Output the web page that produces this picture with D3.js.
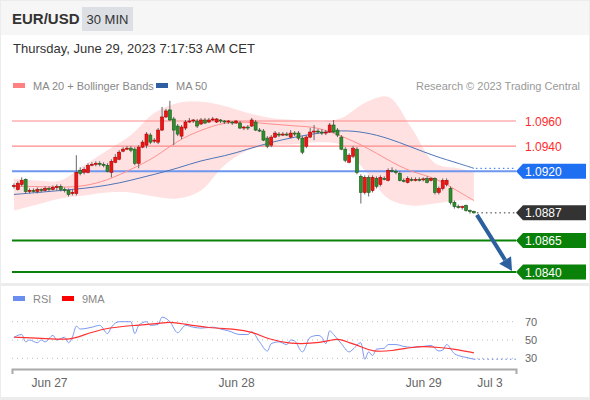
<!DOCTYPE html>
<html>
<head>
<meta charset="utf-8">
<script src="https://cdn.jsdelivr.net/npm/d3@7"></script>
<style>
  body { margin: 0; background: #fff; }
  svg { display: block; font-family: Arial, "Liberation Sans", sans-serif; }
</style>
</head>
<body>
<div id="chart"></div>
<script>
"use strict";

// ---- data ----
// one 30 min bar per row: [open, high, low, close]
var candles = [
    [1.0908,1.09104,1.09064,1.09088],[1.09056,1.0912,1.09048,1.09104],[1.09096,1.09152,1.0908,1.09128],
    [1.09136,1.09144,1.09024,1.0904],[1.0904,1.09064,1.09024,1.09048],[1.09048,1.09064,1.09032,1.0904],
    [1.0904,1.09072,1.09024,1.09056],[1.09056,1.09064,1.09032,1.09048],[1.09048,1.0908,1.0904,1.09064],
    [1.09064,1.0908,1.0904,1.09056],[1.09056,1.09088,1.09048,1.09072],[1.09072,1.09096,1.09048,1.0908],
    [1.0908,1.09096,1.0904,1.09056],[1.09056,1.09072,1.09032,1.09048],[1.09048,1.09064,1.09,1.09016],
    [1.09024,1.09056,1.09008,1.09032],[1.09024,1.09328,1.09008,1.09192],[1.09208,1.09232,1.09168,1.09184],
    [1.09192,1.09232,1.09176,1.09216],[1.09192,1.09264,1.09184,1.09248],[1.09248,1.09272,1.0924,1.09256],
    [1.09256,1.0928,1.0924,1.09264],[1.09264,1.0928,1.0924,1.09256],[1.09256,1.09272,1.09232,1.09248],
    [1.09248,1.09264,1.09192,1.092],[1.09192,1.09296,1.09152,1.0928],[1.09272,1.09336,1.09264,1.09312],
    [1.09296,1.09368,1.09288,1.09352],[1.0936,1.09392,1.09352,1.09376],[1.09376,1.094,1.09368,1.09384],
    [1.09384,1.094,1.09352,1.09368],[1.09376,1.09392,1.09248,1.09264],[1.09264,1.09408,1.09224,1.09392],
    [1.09392,1.09448,1.09384,1.09432],[1.09408,1.09512,1.09384,1.09496],[1.09488,1.09504,1.09416,1.09432],
    [1.0944,1.09464,1.09424,1.09448],[1.09432,1.09544,1.09416,1.09528],[1.09528,1.09712,1.0952,1.09632],
    [1.09632,1.09696,1.09624,1.0968],[1.09688,1.0976,1.096,1.09608],[1.09616,1.09632,1.09408,1.09528],
    [1.0956,1.09576,1.0948,1.09496],[1.0948,1.09568,1.09456,1.09552],[1.09544,1.09608,1.09528,1.09592],
    [1.09592,1.09624,1.09584,1.096],[1.096,1.09616,1.09584,1.09608],[1.096,1.09616,1.09544,1.0956],
    [1.09576,1.09624,1.09568,1.09608],[1.09608,1.09624,1.09576,1.09584],[1.09592,1.09624,1.09584,1.09608],
    [1.09608,1.09632,1.096,1.09616],[1.09592,1.09624,1.09584,1.09616],[1.09608,1.09616,1.09584,1.096],
    [1.096,1.09608,1.09576,1.09592],[1.09592,1.09608,1.09576,1.096],[1.09592,1.096,1.09568,1.09584],
    [1.09584,1.09608,1.09576,1.096],[1.09584,1.096,1.09536,1.09544],[1.09544,1.0956,1.09528,1.09552],
    [1.09552,1.09568,1.09528,1.09544],[1.0956,1.09624,1.09552,1.09608],[1.09592,1.09608,1.0952,1.09528],
    [1.09528,1.09544,1.09512,1.0952],[1.0952,1.09536,1.0944,1.09448],[1.09464,1.0948,1.09384,1.094],
    [1.09408,1.09488,1.09392,1.09472],[1.09472,1.0952,1.09464,1.09504],[1.09496,1.09512,1.09472,1.09488],
    [1.09488,1.09512,1.0948,1.09496],[1.09496,1.09512,1.0948,1.09488],[1.09472,1.09528,1.09464,1.09504],
    [1.09504,1.0952,1.0948,1.09496],[1.09504,1.0952,1.09448,1.09464],[1.09464,1.0948,1.09336,1.09352],
    [1.094,1.09488,1.09384,1.09472],[1.09472,1.09544,1.09464,1.09512],[1.09512,1.09568,1.09448,1.0952],
    [1.0952,1.09536,1.09496,1.09512],[1.09512,1.09536,1.09488,1.09504],[1.09504,1.09528,1.09488,1.09512],
    [1.09512,1.09584,1.09504,1.09568],[1.09568,1.09608,1.09504,1.09512],[1.09528,1.09544,1.09472,1.09488],
    [1.09472,1.09488,1.09368,1.09376],[1.09376,1.09392,1.09272,1.09288],[1.09272,1.09344,1.09264,1.09328],
    [1.0932,1.094,1.09304,1.09384],[1.09376,1.09392,1.09176,1.09192],[1.0916,1.09176,1.08944,1.09032],
    [1.09032,1.09168,1.09016,1.09152],[1.09152,1.09168,1.09,1.09032],[1.09048,1.09168,1.09032,1.09152],
    [1.09144,1.0916,1.09064,1.0908],[1.09096,1.09168,1.0908,1.09152],[1.09144,1.0916,1.09128,1.09136],
    [1.09128,1.09224,1.0912,1.09208],[1.09208,1.09232,1.09192,1.092],[1.092,1.09216,1.09176,1.09192],
    [1.09184,1.092,1.0912,1.09128],[1.09128,1.09144,1.09112,1.0912],[1.09112,1.0916,1.09104,1.09144],
    [1.09136,1.09152,1.0912,1.09128],[1.09128,1.09152,1.0912,1.09136],[1.09136,1.09152,1.0912,1.09128],
    [1.09136,1.09152,1.0912,1.0914],[1.09144,1.0916,1.09104,1.09112],[1.09128,1.09152,1.0912,1.09144],
    [1.09144,1.09152,1.09016,1.09032],[1.09032,1.0908,1.09016,1.09064],[1.09064,1.09144,1.09048,1.09128],
    [1.09096,1.09144,1.0908,1.09128],[1.09064,1.0908,1.08936,1.08952],[1.08952,1.08968,1.08904,1.0892],
    [1.0892,1.08936,1.08904,1.08912],[1.08912,1.08928,1.08896,1.0892],[1.08928,1.08936,1.0888,1.08888],
    [1.08888,1.08896,1.08864,1.0888],[1.0888,1.08888,1.08864,1.0887]
];

// indicator samples, every 6 bars (last one = last bar)
var maIdx    = [0, 6, 12, 18, 24, 30, 36, 42, 48, 54, 60, 66, 72, 78, 84, 90, 96, 102, 108, 114, 118];
var ma20     = [1.0908, 1.0908, 1.09072, 1.0908, 1.09128, 1.09216, 1.09304, 1.09448, 1.09528, 1.09592, 1.09592,
                1.09576, 1.0956, 1.09552, 1.0948, 1.094, 1.09288, 1.09192, 1.09152, 1.0904, 1.08968];
var bbUpper  = [1.09144, 1.09128, 1.09128, 1.09248, 1.09368, 1.09488, 1.09664, 1.09744, 1.09752, 1.0972, 1.09664,
                1.09624, 1.09608, 1.09592, 1.09624, 1.09744, 1.09792, 1.09544, 1.09264, 1.09224, 1.09192];
var bbLower  = [1.08888, 1.08936, 1.08984, 1.09008, 1.09032, 1.09032, 1.09, 1.08984, 1.09048, 1.09248, 1.09368,
                1.09408, 1.09416, 1.09432, 1.09408, 1.09208, 1.08984, 1.08928, 1.08944, 1.08968, 1.08968];
var ma50     = [1.09016, 1.09032, 1.09048, 1.09064, 1.09088, 1.09128, 1.09176, 1.09224, 1.09288, 1.0932, 1.09376,
                1.09432, 1.09472, 1.09504, 1.09528, 1.09512, 1.09464, 1.09392, 1.0932, 1.09264, 1.09224];

// RSI and its 9 period average: [bar, value]
var rsi = [[0,53],[2,56],[3,48],[4,50],[6,47],[7,50],[8,48],[10,55],[11,50],[13,53],[14,47],[15,53],[16,65],
    [17,62],[20,64],[22,66],[24,57],[25,64],[27,70],[30,70],[31,57],[32,66],[34,70],[35,66],[37,67],[38,75],
    [40,70],[42,58],[44,66],[46,64],[48,63],[51,64],[53,62],[55,60],[58,56],[60,56],[61,59],[63,48],[65,38],
    [66,46],[68,48],[70,45],[71,50],[72,49],[74,37],[76,53],[78,55],[79,53],[80,46],[81,60],[82,56],[84,46],
    [86,37],[87,40],[89,47],[90,29],[91,37],[92,33],[93,40],[95,41],[96,45],[98,45],[100,43],[102,42],
    [105,43],[107,44],[109,38],[110,39],[111,45],[113,35],[114,33],[116,31],[118,29]];
var rsiMa = [[0,53],[7,52],[14,50],[17,54],[23,63],[31,66],[37,68],[40,70],[43,68],[50,63],[57,62],[61,59],
    [66,50],[71,46],[76,46],[81,49],[83,52],[86,47],[89,43],[92,37],[97,38],[102,42],[105,43],[109,42],
    [113,40],[118,36]];
var rsiLevels = [70, 50, 30];

var resistances = [1.0960, 1.0940];
var pivot = 1.0920;
var lastPrice = 1.0887;
var supports = [1.0865, 1.0840];

var tickIdx = [9, 57, 105, 122];
var tickLabels = ["Jun 27", "Jun 28", "Jun 29", "Jul 3"];

// ---- drawing ----
var W = 590, H = 400;
var RED = "#ff2a2a", GREEN = "#0a820a", BLUE = "#1f6ff2";

var svg = d3.select("#chart").append("svg")
    .attr("width", W).attr("height", H);

svg.append("rect").attr("width", W).attr("height", H).attr("fill", "#ececec");
svg.append("rect").attr("x", 1).attr("y", 1).attr("width", W - 2).attr("height", 34).attr("fill", "#f6f6f6");
svg.append("rect").attr("x", 1).attr("y", 35).attr("width", W - 2).attr("height", 248).attr("fill", "#fff");
svg.append("rect").attr("x", 1).attr("y", 286).attr("width", W - 2).attr("height", 111).attr("fill", "#fff");

// header
svg.append("text").attr("x", 12).attr("y", 24).attr("font-size", 15).attr("font-weight", "bold")
    .attr("fill", "#333").text("EUR/USD");
svg.append("rect").attr("x", 82).attr("y", 7).attr("width", 51).attr("height", 24).attr("fill", "#dcdfe4");
svg.append("text").attr("x", 107.5).attr("y", 24).attr("text-anchor", "middle").attr("font-size", 13)
    .attr("fill", "#333").text("30 MIN");
svg.append("text").attr("x", 13).attr("y", 53).attr("font-size", 13).attr("fill", "#333")
    .text("Thursday, June 29, 2023 7:17:53 AM CET");

// legends
function legend(x, y, color, label) {
    svg.append("rect").attr("x", x).attr("y", y - 3).attr("width", 12).attr("height", 5).attr("fill", color);
    svg.append("text").attr("x", x + 20).attr("y", y + 4).attr("font-size", 11).attr("fill", "#888").text(label);
}
legend(13, 86, "#ff8080", "MA 20 + Bollinger Bands");
legend(156, 86, "#2f5fa0", "MA 50");
svg.append("text").attr("x", 580).attr("y", 90).attr("text-anchor", "end").attr("font-size", 11)
    .attr("fill", "#999").text("Research \u00a9 2023 Trading Central");
legend(13, 299, "#6a8ef0", "RSI");
legend(62, 299, "#ff0000", "9MA");

// scales
var x = d3.scaleLinear().domain([-0.5, 128.8]).range([12, 516]);
var y = d3.scaleLinear().domain([1.0840, 1.0960]).range([272, 121]);
var yr = d3.scaleLinear().domain([30, 70]).range([358.3, 321.7]);
var xEnd = 516;

var bands = maIdx.map(function (d, i) { return { i: d, up: bbUpper[i], lo: bbLower[i], m20: ma20[i], m50: ma50[i] }; });

// bollinger area
svg.append("path").datum(bands)
    .attr("fill", "#ffe1e1")
    .attr("d", d3.area().curve(d3.curveCatmullRom)
        .x(function (d) { return x(d.i); })
        .y0(function (d) { return y(d.lo); })
        .y1(function (d) { return y(d.up); }));

// level lines
resistances.forEach(function (v) {
    svg.append("line").attr("x1", 12).attr("x2", xEnd).attr("y1", y(v)).attr("y2", y(v))
        .attr("stroke", "#ff8a8a").attr("stroke-width", 1.2);
    svg.append("text").attr("x", 525).attr("y", y(v) + 4.5).attr("font-size", 12).attr("fill", RED)
        .text(v.toFixed(4));
});
svg.append("line").attr("x1", 12).attr("x2", xEnd).attr("y1", y(pivot)).attr("y2", y(pivot))
    .attr("stroke", "#6f96ee").attr("stroke-width", 2);
supports.forEach(function (v) {
    svg.append("line").attr("x1", 12).attr("x2", xEnd).attr("y1", y(v)).attr("y2", y(v))
        .attr("stroke", GREEN).attr("stroke-width", 2);
});

// moving averages
svg.append("path").datum(bands)
    .attr("fill", "none").attr("stroke", "#ff8f8f").attr("stroke-width", 1)
    .attr("d", d3.line().curve(d3.curveBasis)
        .x(function (d) { return x(d.i); }).y(function (d) { return y(d.m20); }));
svg.append("path").datum(bands)
    .attr("fill", "none").attr("stroke", "#4f74b8").attr("stroke-width", 1)
    .attr("d", d3.line().curve(d3.curveBasis)
        .x(function (d) { return x(d.i); }).y(function (d) { return y(d.m50); }));

var lastI = candles.length - 1;
var lastMa50 = ma50[ma50.length - 1];
svg.append("line").attr("x1", x(lastI) + 2).attr("x2", xEnd).attr("y1", y(lastMa50)).attr("y2", y(lastMa50))
    .attr("stroke", BLUE).attr("stroke-width", 1).attr("stroke-dasharray", "1.5,3");
svg.append("line").attr("x1", x(lastI) + 3).attr("x2", xEnd).attr("y1", y(lastPrice)).attr("y2", y(lastPrice))
    .attr("stroke", "#333").attr("stroke-width", 1).attr("stroke-dasharray", "1.5,3");

// candles (red = rising, green = falling)
var cg = svg.append("g").selectAll("g").data(candles).enter().append("g");
cg.append("line")
    .attr("x1", function (d, i) { return x(i); }).attr("x2", function (d, i) { return x(i); })
    .attr("y1", function (d) { return y(d[1]); }).attr("y2", function (d) { return y(d[2]); })
    .attr("stroke", "#666").attr("stroke-width", 1);
cg.append("rect")
    .attr("x", function (d, i) { return x(i) - 1.5; })
    .attr("width", 3)
    .attr("y", function (d) { return y(Math.max(d[0], d[3])); })
    .attr("height", function (d) { return Math.max(1, Math.abs(y(d[0]) - y(d[3]))); })
    .attr("fill", function (d) { return d[3] >= d[0] ? "#f01515" : "#2f8f2f"; })
    .attr("stroke", function (d) { return d[3] >= d[0] ? "#b00000" : "#1a5a1a"; })
    .attr("stroke-width", 0.6);

// forecast arrow
var ax0 = x(lastI) + 3, ay0 = y(lastPrice) + 2;
var ax1 = 512, ay1 = y(supports[1]) - 1;
var ang = Math.atan2(ay1 - ay0, ax1 - ax0);
var back = 13;
var bx = ax1 - back * Math.cos(ang), by = ay1 - back * Math.sin(ang);
svg.append("line").attr("x1", ax0).attr("y1", ay0).attr("x2", bx).attr("y2", by)
    .attr("stroke", "#2b5f9e").attr("stroke-width", 4);
var px = -Math.sin(ang), py = Math.cos(ang);
svg.append("path").attr("fill", "#2b5f9e")
    .attr("d", "M" + ax1 + "," + ay1 + "L" + (bx + 7 * px) + "," + (by + 7 * py) + "L" + (bx - 7 * px) + "," + (by - 7 * py) + "Z");

// price tags
function tag(v, color) {
    var c = y(v);
    svg.append("path").attr("fill", color)
        .attr("d", "M516," + c + "L523," + (c - 7.5) + "H586V" + (c + 7.5) + "H523Z");
    svg.append("text").attr("x", 525).attr("y", c + 4.5).attr("font-size", 12).attr("fill", "#fff")
        .text(v.toFixed(4));
}
tag(pivot, BLUE);
tag(lastPrice, "#333");
supports.forEach(function (v) { tag(v, GREEN); });

// RSI panel
rsiLevels.forEach(function (v) {
    svg.append("line").attr("x1", 12).attr("x2", xEnd).attr("y1", yr(v)).attr("y2", yr(v))
        .attr("stroke", "#bbb").attr("stroke-width", 1).attr("stroke-dasharray", "1,4");
    svg.append("text").attr("x", 525).attr("y", yr(v) + 4).attr("font-size", 11).attr("fill", "#666").text(v);
});
svg.append("path").datum(rsi)
    .attr("fill", "none").attr("stroke", "#7b98f0").attr("stroke-width", 1)
    .attr("d", d3.line().curve(d3.curveMonotoneX)
        .x(function (d) { return x(d[0]); }).y(function (d) { return yr(d[1]); }));
svg.append("path").datum(rsiMa)
    .attr("fill", "none").attr("stroke", "#ff3030").attr("stroke-width", 1.2)
    .attr("d", d3.line().curve(d3.curveBasis)
        .x(function (d) { return x(d[0]); }).y(function (d) { return yr(d[1]); }));
var lastRsi = rsi[rsi.length - 1];
svg.append("line").attr("x1", x(lastRsi[0])).attr("x2", xEnd).attr("y1", yr(lastRsi[1])).attr("y2", yr(lastRsi[1]))
    .attr("stroke", "#5f7fe8").attr("stroke-width", 1).attr("stroke-dasharray", "1.5,3");

// time axis
var axis = svg.append("g").attr("transform", "translate(0,369)")
    .call(d3.axisBottom(x)
        .tickValues(tickIdx)
        .tickFormat(function (d, i) { return tickLabels[i]; })
        .tickSizeInner(0).tickSizeOuter(5).tickPadding(9));
axis.select(".domain").attr("stroke", "#aaa").attr("stroke-width", 2);
axis.selectAll("text").attr("font-size", 12).attr("fill", "#666")
    .attr("font-family", "Arial, 'Liberation Sans', sans-serif");
</script>
</body>
</html>
